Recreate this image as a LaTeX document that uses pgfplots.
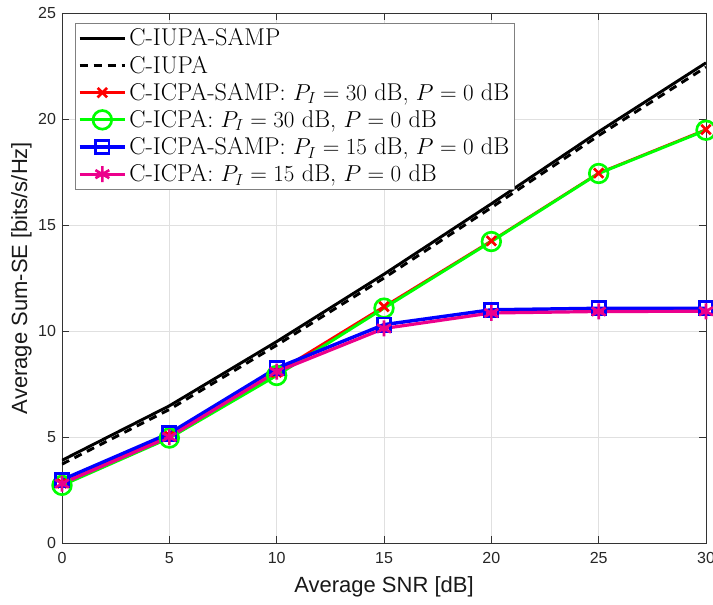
\documentclass[border=0pt]{standalone}
\usepackage{pgfplots}
\pgfplotsset{compat=1.18}
\usepackage{fontspec}
\newfontfamily\arial{Liberation Sans}
\begin{document}
\begin{tikzpicture}
\begin{axis}[
  scale only axis,
  width=483pt, height=397.5pt,
  xmin=0, xmax=30, ymin=0, ymax=25,
  xtick={0,5,...,30}, ytick={0,5,...,25},
  tick align=inside,
  major tick length=5pt,
  grid=major,
  grid style={line width=0.5pt, draw=black!12},
  axis line style={line width=0.6pt, draw=black!80},
  tick style={line width=0.6pt, draw=black!80},
  /pgf/number format/assume math mode=true,
  tick label style={font=\arial\fontsize{12}{14}\selectfont, text=black!85},
  xticklabel style={yshift=-3.5pt},
  yticklabel style={xshift=-1pt},
  xlabel={Average SNR [dB]},
  ylabel={Average Sum-SE [bits/s/Hz]},
  label style={font=\arial\fontsize{16.5}{19}\selectfont, text=black!90},
  xlabel style={yshift=-3pt},
  ylabel style={yshift=-2pt},
  legend cell align=left,
  legend style={at={(0.02,0.981)}, anchor=north west, draw=black!50, line width=0.6pt,
    font=\fontsize{18.2}{20}\selectfont, inner sep=2pt, row sep=2pt},
  legend image code/.code={\draw[mark repeat=2,mark phase=2,#1] plot coordinates {(0pt,0pt) (17pt,0pt) (34pt,0pt)};},
]
\addplot[black, line width=2.2pt] coordinates {(0,3.9) (5,6.47) (10,9.5) (15,12.68) (20,16.0) (25,19.4) (30,22.65)};
\addlegendentry{C-IUPA-SAMP}
\addplot[black, line width=2.2pt, dash pattern=on 6pt off 4.5pt] coordinates {(0,3.72) (5,6.3) (10,9.33) (15,12.5) (20,15.82) (25,19.22) (30,22.45)};
\addlegendentry{C-IUPA}
\addplot[red, line width=2pt, mark=x, mark size=5pt, mark options={line width=2pt}] coordinates {(0,2.82) (5,5.05) (10,8.05) (15,11.15) (20,14.25) (25,17.45) (30,19.5)};
\addlegendentry{C-ICPA-SAMP: $P_I=30$ dB, $P=0$ dB}
\addplot[green, line width=2.2pt, mark=o, mark size=7pt, mark options={line width=2pt}] coordinates {(0,2.72) (5,4.95) (10,7.9) (15,11.08) (20,14.22) (25,17.43) (30,19.47)};
\addlegendentry{C-ICPA: $P_I=30$ dB, $P=0$ dB}
\addplot[blue, line width=2.6pt, mark=square, mark size=5pt, mark options={line width=2.2pt}] coordinates {(0,2.98) (5,5.17) (10,8.25) (15,10.3) (20,11.0) (25,11.07) (30,11.07)};
\addlegendentry{C-ICPA-SAMP: $P_I=15$ dB, $P=0$ dB}
\addplot[magenta, line width=2.4pt, mark=asterisk, mark size=6pt, mark options={line width=2pt}] coordinates {(0,2.8) (5,5.0) (10,8.08) (15,10.12) (20,10.85) (25,10.92) (30,10.93)};
\addlegendentry{C-ICPA: $P_I=15$ dB, $P=0$ dB}
\coordinate (sw) at (rel axis cs:0,0);
\coordinate (ne) at (rel axis cs:1,1);
\end{axis}
\pgfresetboundingbox
\path ([xshift=-46.5pt,yshift=-45.75pt]sw) rectangle ([xshift=5.25pt,yshift=9.75pt]ne);
\end{tikzpicture}
\end{document}
